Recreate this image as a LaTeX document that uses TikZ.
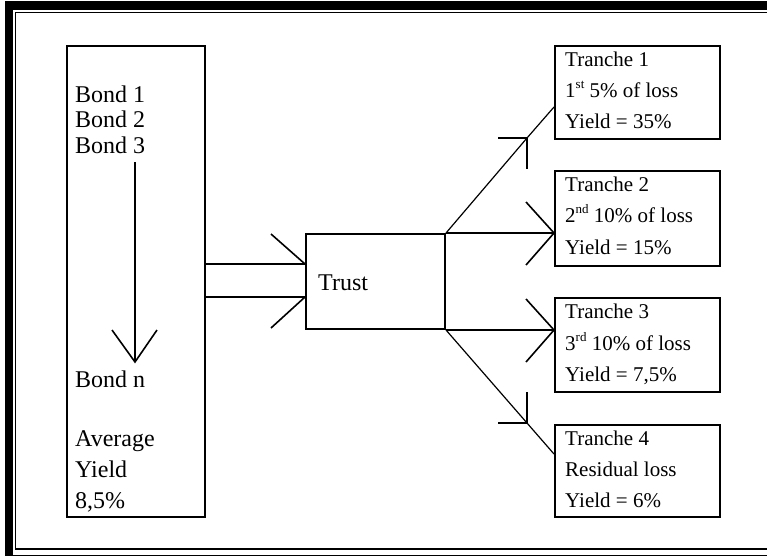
\documentclass[tikz,border=0pt]{standalone}
\usepackage{fontspec}
\setmainfont{Liberation Serif}
\usetikzlibrary{calc}
\newcommand{\supx}[1]{\raisebox{0.42em}{\fontsize{13}{13}\selectfont #1}}
\begin{document}
\begin{tikzpicture}[x=1pt,y=-1pt,
  box/.style={draw,line width=2pt,inner sep=0pt,anchor=north west},
  lbl/.style={anchor=base west,inner sep=0pt,font=\fontsize{24}{26}\selectfont},
  tlbl/.style={anchor=base west,inner sep=0pt,font=\fontsize{21}{25}\selectfont},
  conn/.style={line width=1.6pt},
  diag/.style={line width=1.2pt}]
\useasboundingbox (0,0) rectangle (767,555);
\clip (0,0) rectangle (767,555);
% frame
\draw[line width=8.5pt] (9,5.5) rectangle (790,559.5);
\draw[line width=1.5pt] (15.5,12.5) rectangle (780,549);
% left pool box
\node[box,minimum width=138pt,minimum height=471pt] (pool) at (66,45) {};
\node[lbl] (b1) at (75,102) {Bond 1};
\node[lbl] (b2) at (75,127.5) {Bond 2};
\node[lbl] (b3) at (75,153) {Bond 3};
\node[lbl] (bn) at (75,387) {Bond n};
\node[lbl] (avg) at (75,446) {Average};
\node[lbl] (yl) at (75,477) {Yield};
\node[lbl] (ay) at (75,508) {8,5\%};
\coordinate (vtop) at (135,162);
\coordinate (vtip) at (135,362);
\draw[conn] (vtop) -- (vtip);
\draw[conn] ($(vtip)+(-23,-32)$) -- (vtip) -- ($(vtip)+(22,-32)$);
% trust
\node[box,minimum width=139pt,minimum height=95pt] (trust) at (305,233) {};
\node[lbl] (trusttxt) at (318,290) {Trust};
\coordinate (in1) at (trust.west |- 0,264);
\coordinate (in2) at (trust.west |- 0,297);
\draw[conn] (pool.east |- in1) -- (in1);
\draw[conn] (pool.east |- in2) -- (in2);
\draw[conn] (271,234) -- (in1);
\draw[conn] (271,328) -- (in2);
% tranches
\node[box,minimum width=165pt,minimum height=93pt] (t1) at (554,45) {};
\node[box,minimum width=165pt,minimum height=95pt] (t2) at (554,170) {};
\node[box,minimum width=165pt,minimum height=94pt] (t3) at (554,297) {};
\node[box,minimum width=165pt,minimum height=92pt] (t4) at (554,424) {};
\node[tlbl] (t1a) at (565,66) {Tranche 1};
\node[tlbl] (t1b) at (565,97) {1\supx{st} 5\% of loss};
\node[tlbl] (t1c) at (565,128) {Yield = 35\%};
\node[tlbl] (t2a) at (565,191) {Tranche 2};
\node[tlbl] (t2b) at (565,222.5) {2\supx{nd} 10\% of loss};
\node[tlbl] (t2c) at (565,254) {Yield = 15\%};
\node[tlbl] (t3a) at (565,318) {Tranche 3};
\node[tlbl] (t3b) at (565,350) {3\supx{rd} 10\% of loss};
\node[tlbl] (t3c) at (565,381.5) {Yield = 7,5\%};
\node[tlbl] (t4a) at (565,445) {Tranche 4};
\node[tlbl] (t4b) at (565,476) {Residual loss};
\node[tlbl] (t4c) at (565,507) {Yield = 6\%};
% outgoing connectors
\coordinate (o2) at (trust.north east -| t2.west);
\coordinate (o3) at (trust.south east -| t3.west);
\draw[conn] (trust.north east) -- (o2);
\draw[conn] (trust.south east) -- (o3);
\draw[conn] ($(o2)+(-28,-31)$) -- (o2) -- ($(o2)+(-28,32)$);
\draw[conn] ($(o3)+(-28,-31)$) -- (o3) -- ($(o3)+(-28,32)$);
\coordinate (d1) at (527,138);
\coordinate (e1) at (t1.west |- 0,107);
\draw[diag] (trust.north east) -- (d1) -- (e1);
\draw[conn] ($(d1)+(-29,0)$) -- (d1) -- ($(d1)+(0,31)$);
\coordinate (d4) at (527,423);
\coordinate (e4) at (t4.west |- 0,454);
\draw[diag] (trust.south east) -- (d4) -- (e4);
\draw[conn] ($(d4)+(-29,0)$) -- (d4) -- ($(d4)+(0,-31)$);
\end{tikzpicture}
\end{document}
